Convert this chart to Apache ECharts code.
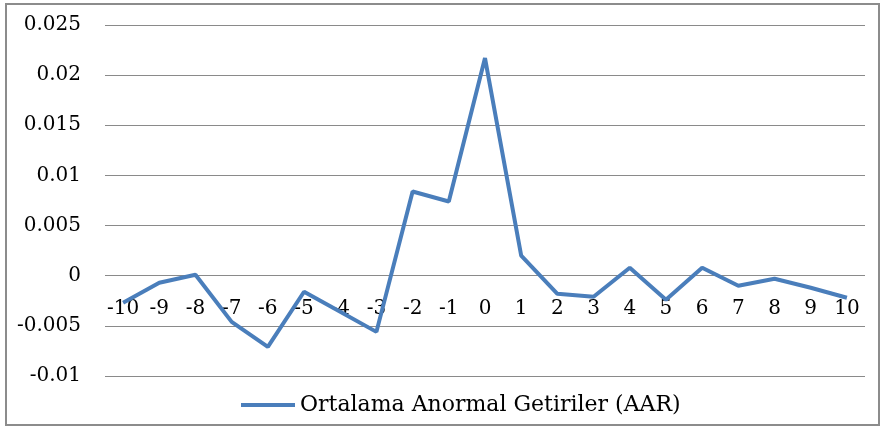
<!DOCTYPE html>
<html>
<head>
<meta charset="utf-8">
<script src="https://cdn.jsdelivr.net/npm/echarts@6/dist/echarts.min.js"></script>
<style>
  html, body { margin: 0; padding: 0; background: #fff; }
  #chart { width: 884px; height: 429px; }
</style>
</head>
<body>
<div id="chart"></div>
<script>
// olay penceresi günleri
var days = ['-10', '-9', '-8', '-7', '-6', '-5', '-4', '-3', '-2', '-1', '0',
            '1', '2', '3', '4', '5', '6', '7', '8', '9', '10'];
// ortalama anormal getiriler
var aar = [-0.0027, -0.0007, 0.0001, -0.0046, -0.0071, -0.0016, -0.0036, -0.0056,
           0.0084, 0.0074, 0.0217, 0.0020, -0.0018, -0.0021, 0.0008, -0.0024,
           0.0008, -0.0010, -0.0003, -0.0012, -0.0022];
var seriesName = 'Ortalama Anormal Getiriler (AAR)';

var chart = echarts.init(document.getElementById('chart'));
var font = '"DejaVu Serif", "Liberation Serif", serif';
var option = {
    backgroundColor: '#fff',
    graphic: [{
        type: 'rect',
        shape: { x: 6, y: 4, width: 873, height: 421 },
        style: { fill: 'none', stroke: '#8c8c8c', lineWidth: 2 },
        silent: true
    }],
    legend: {
        bottom: 8,
        left: 236,
        itemWidth: 54,
        itemHeight: 4,
        icon: 'rect',
        itemGap: 4,
        textStyle: { fontFamily: font, fontSize: 22, color: '#000' },
        data: [seriesName]
    },
    grid: {
        left: 105,
        right: 19,
        top: 25,
        bottom: 53
    },
    xAxis: {
        type: 'category',
        data: days,
        boundaryGap: true,
        // Excel'deki gibi etiketler sıfır çizgisinin hemen altında
        offset: -100,
        axisLine: { show: false, onZero: false },
        axisTick: { show: false },
        axisLabel: {
            margin: 23,
            interval: 0,
            fontFamily: font,
            fontSize: 20,
            color: '#000'
        }
    },
    yAxis: {
        type: 'value',
        min: -0.01,
        max: 0.025,
        interval: 0.005,
        axisLine: { show: false },
        axisTick: { show: false },
        splitLine: { lineStyle: { color: '#8a8a8a', width: 1 } },
        axisLabel: {
            margin: 24,
            fontFamily: font,
            fontSize: 20,
            color: '#000'
        }
    },
    series: [{
        name: seriesName,
        type: 'line',
        data: aar,
        symbol: 'none',
        lineStyle: { color: '#4a7ebb', width: 4 },
        itemStyle: { color: '#4a7ebb' }
    }]
};
chart.setOption(option);
</script>
</body>
</html>
